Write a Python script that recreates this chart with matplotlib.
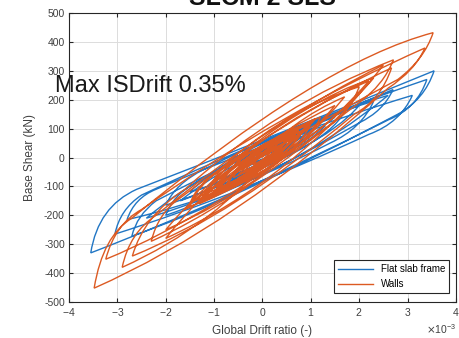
import numpy as np
import matplotlib
matplotlib.use("Agg")
import matplotlib.pyplot as plt
from matplotlib.path import Path
from matplotlib.patches import PathPatch
from matplotlib.lines import Line2D

# hysteresis traces: drift in 1e-3, base shear in kN
# first point is the start, then pairs of (bezier control, end point)
FLAT_SLAB_TRACE = [
    (0.0, 5),
    (0.15, 45), (0.7, 70),
    (0.5, 0), (-0.8, -70),
    (-0.55, 10), (1.1, 115),
    (0.8, 10), (-1.3, -110),
    (-0.95, 10), (1.7, 160),
    (1.3, 20), (-2.0, -165),
    (-1.8, -90), (-1.2, -40), (0.6, 110), (2.3, 195),
    (2.05, 100), (1.4, 50), (-0.8, -140), (-2.8, -215),
    (-2.65, -140), (-2.2, -110), (0.6, 90), (3.1, 215),
    (2.85, 120), (2.2, 80), (-0.5, -130), (-3.05, -265),
    (-2.95, -180), (-2.5, -130), (0.5, 105), (3.4, 270),
    (3.2, 170), (2.6, 130), (-0.6, -140), (-3.55, -330),
    (-3.4, -170), (-2.6, -110), (0.5, 90), (3.55, 300),
    (3.35, 200), (2.8, 150), (-0.6, -150), (-2.7, -272),
    (-2.6, -200), (-2.2, -150), (0.2, 60), (2.7, 235),
    (2.5, 160), (2.0, 120), (-0.4, -110), (-2.0, -200),
    (-1.85, -130), (-1.4, -90), (0.5, 80), (2.0, 180),
    (1.2, 20), (-1.5, -120),
    (-0.8, 10), (1.3, 110),
    (0.7, 5), (-0.9, -75),
    (-0.4, 5), (0.5, 50),
    (0.2, -5), (-0.3, -20),
    (0.22, 49), (1.0, 95),
    (0.16, -19), (-1.1, -95),
    (-0.06, 46), (1.5, 140),
    (0.22, -34), (-1.7, -150),
    (-0.7, -15), (0.8, 75),
    (0.24, 0), (-0.6, -50),
    (0.68, 122), (2.6, 215),
    (0.6, -61), (-2.4, -210),
    (-1.04, -15), (1.0, 90),
    (0.52, 38), (-0.2, -10),
]

WALLS_TRACE = [
    (0.0, 0),
    (0.1, 45), (0.5, 60),
    (0.3, 0), (-0.6, -70),
    (-0.4, 20), (0.7, 85),
    (0.45, -5), (-0.9, -105),
    (-0.65, 15), (0.9, 110),
    (0.6, -10), (-1.2, -140),
    (-0.9, 0), (0.6, 70),
    (0.35, -30), (-1.0, -130),
    (-0.75, 10), (1.0, 120),
    (0.7, -20), (-1.5, -170),
    (-1.2, -20), (0.8, 90),
    (0.5, -10), (-0.7, -90),
    (-0.45, 30), (1.2, 140),
    (0.85, 0), (-1.3, -160),
    (-1.0, -30), (0.4, 40),
    (0.2, -30), (-1.1, -120),
    (-1.0, -50), (-0.6, 0), (0.6, 170), (2.0, 245),
    (1.8, 150), (1.3, 100), (-0.7, -170), (-2.3, -290),
    (-2.15, -190), (-1.7, -140), (0.6, 150), (2.67, 310),
    (2.45, 200), (1.9, 150), (-0.6, -200), (-2.69, -341),
    (-2.45, -200), (-1.6, -110), (0.3, 180), (2.71, 338),
    (2.5, 250), (2.0, 190), (-1.0, -200), (-3.24, -352),
    (-3.05, -230), (-2.5, -180), (0.4, 160), (3.36, 379),
    (3.15, 300), (2.6, 240), (-0.6, -240), (-3.48, -452),
    (-3.3, -270), (-2.7, -210), (1.2, 330), (3.53, 432),
    (3.35, 340), (2.8, 270), (0.2, 40), (-1.5, -160),
    (-1.35, -90), (-0.9, -50), (0.9, 200), (2.3, 275),
    (1.2, 60), (-0.8, -110),
    (-0.5, 0), (0.6, 80),
    (0.3, 10), (-0.4, -50),
    (0.12, 40), (0.9, 100),
    (-0.02, -50), (-1.4, -150),
    (-0.42, 15), (1.05, 125),
    (0.43, 14), (-0.5, -60),
    (0.0, 33), (0.75, 95),
    (-0.05, -49), (-1.25, -145),
    (-0.63, -34), (0.3, 40),
    (-0.46, -92), (-1.6, -180),
    (-0.58, -3), (0.95, 115),
    (0.19, -23), (-0.95, -115),
    (-0.13, 35), (1.1, 135),
    (0.22, -27), (-1.1, -135),
    (-0.46, -21), (0.5, 55),
    (0.22, 7), (-0.2, -25),
    (0.56, 128), (1.7, 210),
    (0.22, -89), (-2.0, -250),
    (-0.32, 85), (2.2, 265),
    (0.92, 15), (-1.0, -120),
    (-0.48, -22), (0.3, 30),
    (-0.98, -236), (-2.9, -380),
    (-2.75, -260), (-2.2, -200), (0.3, 140), (2.5, 320),
    (0.7, -70), (-2.0, -280),
    (-0.6, 19), (1.5, 180),
    (0.7, 17), (-0.5, -70),
]

SERIES_LABELS = ["Flat slab frame", "Walls"]
SERIES_COLORS = ["#2176c4", "#dc5a22"]
X_TICKS = [-4, -3, -2, -1, 0, 1, 2, 3, 4]
Y_TICKS = [-500, -400, -300, -200, -100, 0, 100, 200, 300, 400, 500]

plt.rcParams["font.family"] = ["Liberation Sans", "DejaVu Sans"]
plt.rcParams["axes.unicode_minus"] = False


def trace_patch(trace, color):
    verts = np.array(trace, dtype=float)
    verts[:, 0] *= 1e-3
    codes = [Path.MOVETO] + [Path.CURVE3] * (len(verts) - 1)
    return PathPatch(Path(verts, codes), facecolor="none", edgecolor=color, lw=1.0)


def main():
    fig = plt.figure(figsize=(4.6, 3.38), dpi=100)
    ax = fig.add_axes([0.150, 0.1065, 0.841, 0.855])

    for trace, color in zip([FLAT_SLAB_TRACE, WALLS_TRACE], SERIES_COLORS):
        ax.add_patch(trace_patch(trace, color))

    ax.set_xlim(-4e-3, 4e-3)
    ax.set_ylim(-500, 500)
    ax.set_xticks(np.array(X_TICKS) * 1e-3)
    ax.set_yticks(Y_TICKS)
    ax.ticklabel_format(axis="x", style="sci", scilimits=(-3, -3), useMathText=True)
    ax.xaxis.get_offset_text().set_fontsize(7.5)
    ax.xaxis.get_offset_text().set_color("#404040")

    ax.grid(True, color="#dcdcdc", lw=0.7)
    ax.set_axisbelow(True)
    ax.tick_params(direction="in", top=True, right=True, length=3, width=0.8,
                   color="#262626", labelcolor="#404040", labelsize=7.5, pad=3)
    for spine in ax.spines.values():
        spine.set_color("#262626")
        spine.set_linewidth(0.8)

    ax.set_xlabel("Global Drift ratio (-)", fontsize=8.5, color="#404040", labelpad=5)
    ax.set_ylabel("Base Shear (kN)", fontsize=8.5, color="#404040", labelpad=6)

    handles = [Line2D([], [], color=c, lw=1.0) for c in SERIES_COLORS]
    leg = ax.legend(handles, SERIES_LABELS, loc="lower right", bbox_to_anchor=(0.982, 0.031),
                    fontsize=7, fancybox=False, framealpha=1, edgecolor="#262626",
                    handlelength=3.6, borderaxespad=0)
    leg.get_frame().set_linewidth(0.8)

    fig.text(0.57, 0.985, "SLCM 2 SLS", fontsize=18, fontweight="bold",
             ha="center", va="baseline", color="#111111")
    fig.text(55 / 460, (338 - 92) / 338, "Max ISDrift 0.35%", fontsize=17,
             color="#1a1a1a", va="baseline")

    fig.savefig("out.png", dpi=100)
    plt.close(fig)


if __name__ == "__main__":
    main()
